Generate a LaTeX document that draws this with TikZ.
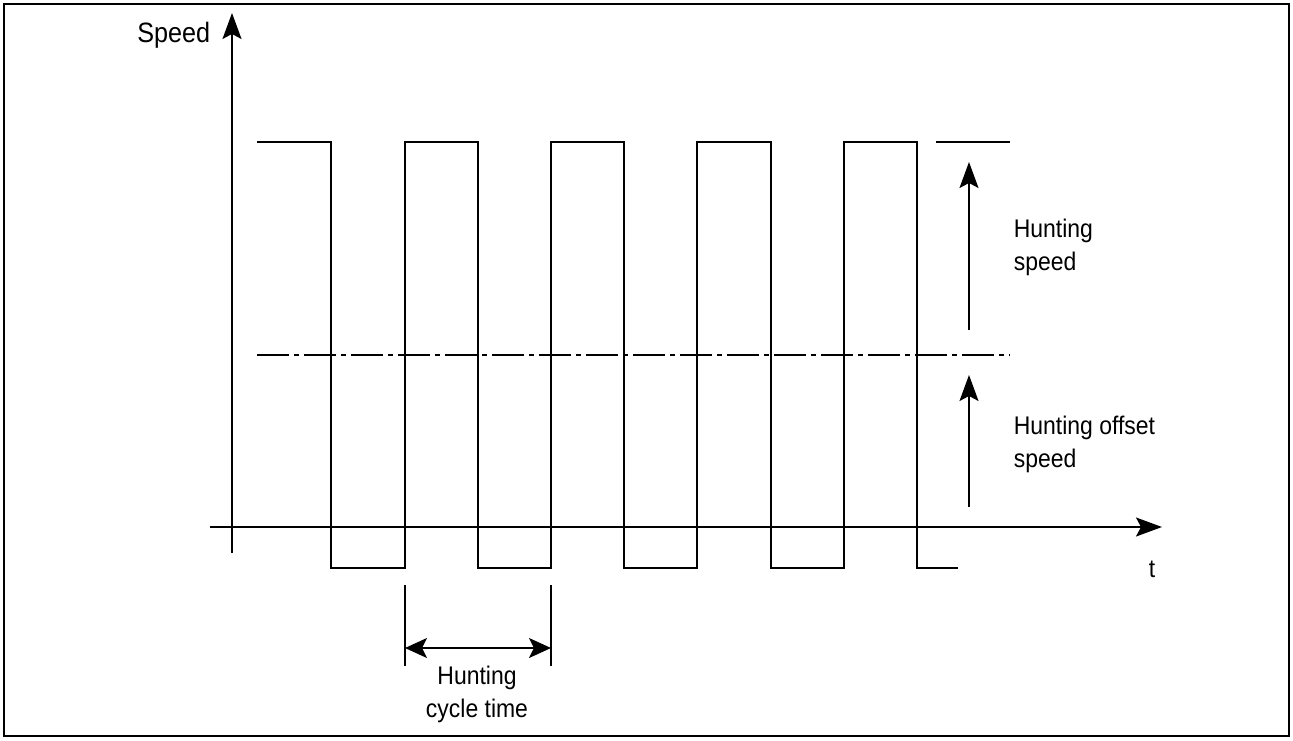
\documentclass[tikz,border=0pt]{standalone}
\usepackage{fontspec}
\setmainfont{Liberation Sans}[FakeStretch=0.9]
\usetikzlibrary{arrows.meta}
\begin{document}
\begin{tikzpicture}[x=1pt,y=-1pt, line width=1.6pt,
  lbl/.style={font=\fontsize{25.5}{33}\selectfont, inner sep=0pt, align=left},
  >={Stealth[length=26pt,width=19pt,inset=5pt]},
  ax/.style={->},
  wave/.style={line width=1.6pt},
  dashdot/.style={dash pattern=on 32pt off 5pt on 5pt off 5pt},
]
\useasboundingbox (0,0) rectangle (1293,740);
\draw[line width=2.4pt] (4,4) rectangle (1289,736);
% axes
\coordinate (yb) at (232,553);
\coordinate (yt) at (232,13);
\coordinate (xl) at (210,527);
\coordinate (xr) at (1162,527);
\draw[ax] (yb) -- (yt);
\draw[ax] (xl) -- (xr);
\node[lbl, anchor=base east, font=\fontsize{28}{33}\selectfont] (speed) at (211,42) {Speed};
\node[lbl, anchor=base] (t) at (1152,577) {t};
% square wave
\draw[wave] (257,142) -| (331,568) -| (405,142) -| (478,568) -| (551,142) -| (624,568)
  -| (697,142) -| (771,568) -| (844,142) -| (917,568) -- (958,568);
\draw[wave] (936,142) -- (1010,142);
% offset line
\draw[dashdot] (257,355) -- (1010,355);
% right arrows
\coordinate (a1b) at (969,330);
\coordinate (a1t) at (969,162);
\coordinate (a2b) at (969,507);
\coordinate (a2t) at (969,375);
\draw[ax] (a1b) -- (a1t);
\draw[ax] (a2b) -- (a2t);
\node[lbl, anchor=base west] (hs) at (1013,270) {Hunting\\speed};
\node[lbl, anchor=base west] (hos) at (1013,467) {Hunting offset\\speed};
% cycle time
\coordinate (c1t) at (405,585);
\coordinate (c1b) at (405,666);
\coordinate (c2t) at (551,585);
\coordinate (c2b) at (551,666);
\draw (c1t) -- (c1b);
\draw (c2t) -- (c2b);
\coordinate (cl) at (405,648);
\coordinate (cr) at (551,648);
\draw[{Stealth[length=22pt,width=20pt,inset=5pt]}-{Stealth[length=22pt,width=20pt,inset=5pt]}] (cl) -- (cr);
\node[lbl, anchor=base, align=center] (hct) at (477,717) {Hunting\\cycle time};
\end{tikzpicture}
\end{document}
